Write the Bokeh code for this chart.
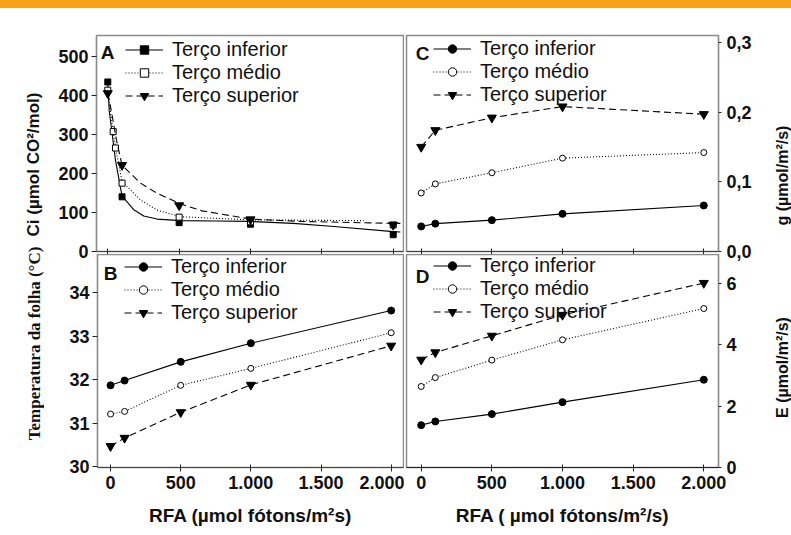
from bokeh.plotting import figure
from bokeh.models import Range1d, FixedTicker, Legend, LegendItem, Label, Div
from bokeh.layouts import column, row
from bokeh.embed import file_html
from bokeh.resources import INLINE

# ---------------- data ----------------
series_names = ["Terço inferior", "Terço médio", "Terço superior"]
rfa = [0, 100, 500, 1000, 2000]
x_ticks = [0, 500, 1000, 1500, 2000]
x_tick_labels = ["0", "500", "1.000", "1.500", "2.000"]

# Panel A: Ci (umol CO2/mol)
ci_ticks = [0, 100, 200, 300, 400, 500]
ci_inf = [434, 140, 74, 70, 43]
ci_med_x = [0, 38, 54, 100, 500, 1000, 2000]
ci_med = [413, 307, 265, 175, 88, 76, 68]
ci_sup = [405, 221, 118, 82, 68]
# fitted curves
ci_inf_fit_x = [0, 10, 26, 54, 100, 182, 252, 345, 509, 750, 1000, 1300, 1584, 2000, 2050]
ci_inf_fit = [434, 360, 315, 234, 142, 107, 91, 83, 79, 78, 77, 72, 64, 51, 50]
ci_med_fit_x = [0, 20, 38, 54, 100, 229, 345, 509, 1000, 1793]
ci_med_fit = [413, 355, 307, 267, 179, 132, 106, 89, 81, 79]
ci_sup_fit_x = [0, 26, 61, 100, 229, 345, 509, 660, 1000, 1360, 2000, 2050]
ci_sup_fit = [405, 358, 285, 221, 175, 149, 122, 104, 83, 77, 72, 72]

# Panel B: leaf temperature (C)
temp_ticks = [30, 31, 32, 33, 34]
temp_inf = [31.87, 31.98, 32.41, 32.84, 33.59]
temp_med = [31.21, 31.27, 31.87, 32.26, 33.08]
temp_sup = [30.47, 30.66, 31.25, 31.88, 32.78]

# Panel C: gs (umol/m2/s)
gs_ticks = [0.0, 0.1, 0.2, 0.3]
gs_tick_labels = ["0,0", "0,1", "0,2", "0,3"]
gs_inf = [0.036, 0.040, 0.045, 0.054, 0.066]
gs_med = [0.084, 0.097, 0.113, 0.134, 0.142]
gs_sup = [0.150, 0.174, 0.192, 0.208, 0.197]

# Panel D: E (umol/m2/s)
e_ticks = [0, 2, 4, 6]
e_inf = [1.38, 1.50, 1.74, 2.13, 2.86]
e_med = [2.64, 2.93, 3.50, 4.16, 5.18]
e_sup = [3.51, 3.75, 4.29, 4.97, 6.01]

# ---------------- style ----------------
SANS = "Liberation Sans"
SERIF = "Liberation Serif"
dashes = ["solid", "1 2", "7 4"]
OUTLINE = "#8c8c8c"


def base_fig(w, h, xr, yr, yloc, mb):
    p = figure(width=w, height=h, x_range=Range1d(*xr), y_range=Range1d(*yr),
               output_backend="svg", toolbar_location=None, y_axis_location=yloc,
               min_border_left=mb[0], min_border_right=mb[1],
               min_border_top=mb[2], min_border_bottom=mb[3])
    p.grid.visible = False
    p.outline_line_color = OUTLINE
    p.outline_line_width = 1.5
    p.background_fill_color = "white"
    return p


def style_axis(ax, ticks, overrides=None, tick_in=0, tick_out=5, standoff=3, size="18px"):
    ax.ticker = FixedTicker(ticks=ticks)
    if overrides:
        ax.major_label_overrides = overrides
    ax.major_label_text_font = SANS
    ax.major_label_text_font_style = "bold"
    ax.major_label_text_font_size = size
    ax.major_label_text_color = "#111111"
    ax.major_label_standoff = standoff
    ax.major_tick_in = tick_in
    ax.major_tick_out = tick_out
    ax.major_tick_line_color = "#222222"
    ax.minor_tick_line_color = None
    ax.axis_line_color = OUTLINE
    ax.axis_line_width = 1.2


def hide_labels(ax):
    ax.major_label_text_font_size = "1px"
    ax.major_label_text_color = None
    ax.major_label_standoff = 0


def axis_title(ax, text, font, size, standoff):
    ax.axis_label = text
    ax.axis_label_text_font = font
    ax.axis_label_text_font_style = "bold"
    ax.axis_label_text_font_size = size
    ax.axis_label_text_color = "#111111"
    ax.axis_label_standoff = standoff


def label_fig(w, h, mb_left, mb_top, mb_bottom, text, font, size, standoff):
    """Narrow figure whose only content is a vertical axis title (reads bottom-to-top)."""
    p = figure(width=w, height=h, x_range=Range1d(0, 1), y_range=Range1d(0, 1),
               output_backend="svg", toolbar_location=None,
               x_axis_location=None, y_axis_location="left",
               min_border_left=mb_left, min_border_right=0,
               min_border_top=mb_top, min_border_bottom=mb_bottom)
    p.grid.visible = False
    p.outline_line_color = None
    p.background_fill_alpha = 0
    p.border_fill_alpha = 0
    ax = p.yaxis[0]
    ax.ticker = FixedTicker(ticks=[])
    ax.major_tick_out = 0
    ax.major_tick_in = 0
    ax.minor_tick_line_color = None
    ax.axis_line_color = None
    ax.major_label_standoff = 0
    axis_title(ax, text, font, size, standoff)
    return p


def add_series(p, xs, ys, fitx, fity, dash, marker, fill, size):
    if fitx is None:
        fitx, fity = xs, ys
    lr = p.line(fitx, fity, line_color="black", line_width=1.1, line_dash=dash)
    sr = p.scatter(xs, ys, marker=marker, size=size, line_color="black",
                   fill_color=fill, line_width=1.0)
    return lr, sr


def add_legend(p, items, loc):
    lg = Legend(items=items, location=loc, orientation="vertical",
                border_line_color=None, background_fill_alpha=0,
                label_text_font=SANS, label_text_font_size="20px",
                label_text_color="#111111",
                glyph_width=38, glyph_height=21, label_height=21,
                label_standoff=9, spacing=0, padding=0, margin=0)
    p.add_layout(lg)


def letter(p, txt, x, y):
    p.add_layout(Label(x=x, y=y, x_units="screen", y_units="screen", text=txt,
                       text_align="center", text_baseline="middle",
                       text_font=SANS, text_font_style="bold",
                       text_font_size="19px", text_color="#111111"))


xlabels = {t: l for t, l in zip(x_ticks, x_tick_labels)}

# ---------------- Panel A ----------------
pA = base_fig(360, 254, (-79, 2072), (0, 553), "left", (52, 1, 27, 11))
style_axis(pA.yaxis[0], ci_ticks)
style_axis(pA.xaxis[0], x_ticks, tick_in=3, tick_out=3, standoff=0)
hide_labels(pA.xaxis[0])
pA.xaxis[0].axis_line_color = "#444444"
rA = [
    add_series(pA, rfa, ci_inf, ci_inf_fit_x, ci_inf_fit, dashes[0], "square", "black", 6),
    add_series(pA, ci_med_x, ci_med, ci_med_fit_x, ci_med_fit, dashes[1], "square", "white", 6),
    add_series(pA, rfa, ci_sup, ci_sup_fit_x, ci_sup_fit, dashes[2], "inverted_triangle", "black", 9),
]
add_legend(pA, [LegendItem(label=n, renderers=list(r)) for n, r in zip(series_names, rA)], (29, 144))
letter(pA, "A", 11, 199)

# ---------------- Panel C ----------------
pC = base_fig(352, 254, (-104, 2104), (0, 0.31), "right", (2, 38, 27, 11))
style_axis(pC.yaxis[0], gs_ticks, {t: l for t, l in zip(gs_ticks, gs_tick_labels)},
           tick_out=3, standoff=5)
style_axis(pC.xaxis[0], x_ticks, tick_in=3, tick_out=3, standoff=0)
hide_labels(pC.xaxis[0])
pC.xaxis[0].axis_line_color = "#444444"
rC = [
    add_series(pC, rfa, gs_inf, None, None, dashes[0], "circle", "black", 7),
    add_series(pC, rfa, gs_med, None, None, dashes[1], "circle", "white", 6),
    add_series(pC, rfa, gs_sup, None, None, dashes[2], "inverted_triangle", "black", 9),
]
add_legend(pC, [LegendItem(label=n, renderers=list(r)) for n, r in zip(series_names, rC)], (27, 145))
letter(pC, "C", 16, 198)

# ---------------- Panel B ----------------
pB = base_fig(360, 281, (-93, 2088), (29.98, 34.88), "left", (53, 1, 0, 68))
pB.border_fill_alpha = 0
style_axis(pB.yaxis[0], temp_ticks)
style_axis(pB.xaxis[0], x_ticks, xlabels, tick_in=3, tick_out=4, standoff=4)
pB.xaxis[0].axis_line_color = "#444444"
axis_title(pB.xaxis[0], "RFA (µmol fótons/m²s)", SANS, "19px", 13)
rB = [
    add_series(pB, rfa, temp_inf, None, None, dashes[0], "circle", "black", 7),
    add_series(pB, rfa, temp_med, None, None, dashes[1], "circle", "white", 6),
    add_series(pB, rfa, temp_sup, None, None, dashes[2], "inverted_triangle", "black", 9),
]
add_legend(pB, [LegendItem(label=n, renderers=list(r)) for n, r in zip(series_names, rB)], (27, 143))
letter(pB, "B", 13, 194)

# ---------------- Panel D ----------------
pD = base_fig(352, 281, (-104, 2104), (0, 6.94), "right", (2, 38, 0, 68))
pD.border_fill_alpha = 0
style_axis(pD.yaxis[0], e_ticks, tick_out=3, standoff=5)
style_axis(pD.xaxis[0], x_ticks, xlabels, tick_in=3, tick_out=4, standoff=4)
pD.xaxis[0].axis_line_color = "#222222"
axis_title(pD.xaxis[0], "RFA ( µmol fótons/m²/s)", SANS, "19px", 13)
rD = [
    add_series(pD, rfa, e_inf, None, None, dashes[0], "circle", "black", 7),
    add_series(pD, rfa, e_med, None, None, dashes[1], "circle", "white", 6),
    add_series(pD, rfa, e_sup, None, None, dashes[2], "inverted_triangle", "black", 9),
]
add_legend(pD, [LegendItem(label=n, renderers=list(r)) for n, r in zip(series_names, rD)], (27, 144))
letter(pD, "D", 16, 191)

# ---------------- vertical titles (separate columns) ----------------
pL1 = label_fig(44, 236, 43, 90, 14, "Ci (µmol CO²/mol)", SANS, "17px", 1)
pL2 = label_fig(44, 291, 43, 10, 103, "Temperatura da folha (°C)", SERIF, "17px", 0)
pG = label_fig(35, 262, 34, 90, 18, "g (µmol/m²/s)", SANS, "16px", 0)
pH = label_fig(35, 265, 34, 20, 91, "E (µmol/m²/s)", SANS, "16px", 0)

bar = Div(text="", width=791, height=8, margin=(0, 0, 0, 0),
          styles={"background-color": "#F6A11C"})

panels = column(row(pA, pC, spacing=0),
                row(pB, pD, spacing=0, margin=(-8, 0, 0, 0)),
                spacing=0)
layout = column(bar,
                row(column(pL1, pL2, spacing=0), panels, column(pG, pH, spacing=0),
                    spacing=0),
                spacing=0)

with open("out.html", "w") as f:
    f.write(file_html(layout, INLINE))
